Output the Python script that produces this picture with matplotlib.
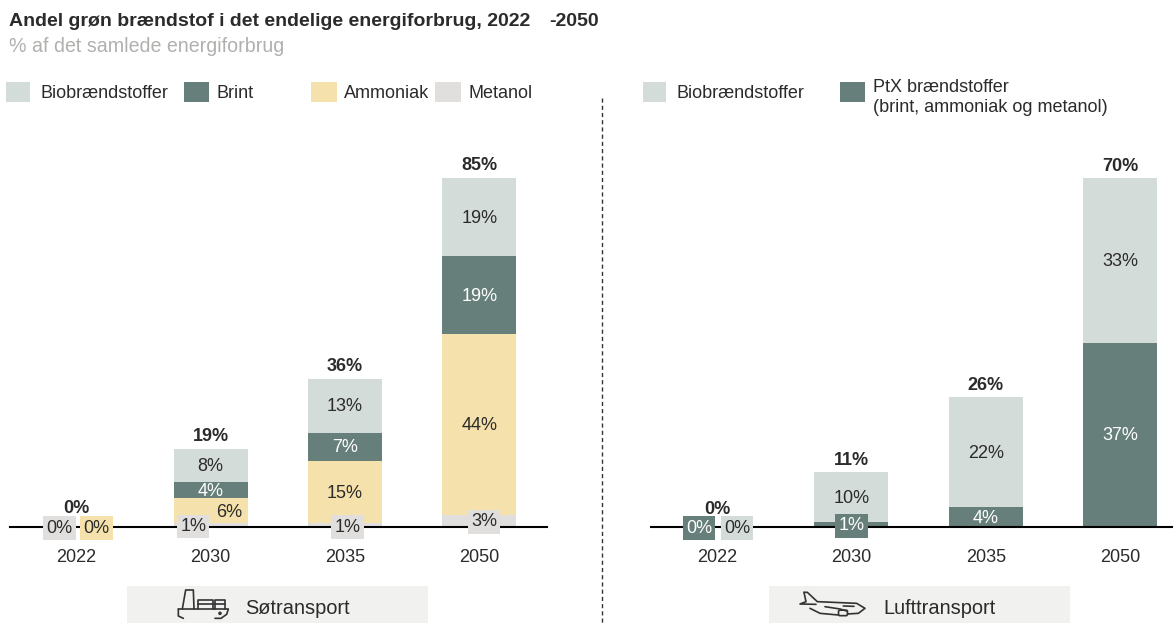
import numpy as np
import matplotlib
matplotlib.use("Agg")
import matplotlib.pyplot as plt
from matplotlib.patches import Rectangle, Circle, FancyBboxPatch

plt.rcParams['font.family'] = ['Liberation Sans', 'DejaVu Sans']

W, H = 1173, 623

years = ['2022', '2030', '2035', '2050']

# soetransport
sea_metanol = [0, 1, 1, 3]
sea_ammoniak = [0, 6, 15, 44]
sea_brint = [0, 4, 7, 19]
sea_bio = [0, 8, 13, 19]
sea_total = [0, 19, 36, 85]

# lufttransport
air_ptx = [0, 1, 4, 37]
air_bio = [0, 10, 22, 33]
air_total = [0, 11, 26, 70]

c_bio = '#d3dcd9'
c_brint = '#667f7a'
c_amm = '#f5e1ab'
c_met = '#e0dfdd'
c_txt = '#2b2b2b'
c_icon = '#333333'
fs = 13


def make_ax(fig, x0, x1, first, step, ymax):
    # base line at pixel y=527, top of axes at pixel y=178
    ax = fig.add_axes([x0 / W, (H - 527) / H, (x1 - x0) / W, 349 / H])
    ax.set_xlim((x0 - first) / step, (x1 - first) / step)
    ax.set_ylim(0, ymax)
    ax.patch.set_alpha(0)
    for s in ['top', 'left', 'right']:
        ax.spines[s].set_visible(False)
    ax.spines['bottom'].set_linewidth(1.5)
    ax.spines['bottom'].set_color('black')
    ax.spines['bottom'].set_zorder(2.5)
    ax.set_yticks([])
    ax.set_xticks(range(4))
    ax.set_xticklabels(years, fontsize=fs, color=c_txt)
    ax.tick_params(axis='x', length=0, pad=15.5)
    return ax


def seg_labels(ax, x, bottoms, vals, color):
    px = ax.get_ylim()[1] / 349
    for i in range(len(x)):
        if vals[i] >= 3:
            ax.text(x[i], bottoms[i] + vals[i] / 2 - px, '%d%%' % vals[i], ha='center', va='center',
                    fontsize=fs, color=color, zorder=5)


def tag(ax, x, y, s, bg, fg):
    ax.text(x, y, s, ha='center', va='center', fontsize=fs, color=fg, zorder=6,
            bbox=dict(facecolor=bg, edgecolor='none', pad=2.4))


def icon_line(ax, pts, ox, oy):
    ax.plot([ox + p[0] / 3 for p in pts], [oy + p[1] / 3 for p in pts], color=c_icon, lw=1.2,
            solid_joinstyle='round', solid_capstyle='round')


fig = plt.figure(figsize=(W / 100, H / 100), dpi=100)

# overlay in pixel coordinates for titles, legends, panels
bg = fig.add_axes([0, 0, 1, 1])
bg.set_xlim(0, W)
bg.set_ylim(H, 0)
bg.axis('off')

bg.text(9, 21, 'Andel grøn brændstof i det endelige energiforbrug, 2022', fontsize=14.03, fontweight='bold',
        color=c_txt, va='center')
bg.text(549, 21, '-2050', fontsize=14.03, fontweight='bold', color=c_txt, va='center')
bg.text(9, 47, '% af det samlede energiforbrug', fontsize=14.1, color='#b0b0ae', va='center')

legend_left = [(6, 24, c_bio, 'Biobrændstoffer', 40), (184, 25, c_brint, 'Brint', 217),
               (311, 26, c_amm, 'Ammoniak', 344), (435, 26, c_met, 'Metanol', 469)]
for x, w, col, lab, tx in legend_left:
    bg.add_patch(Rectangle((x, 82), w, 20, color=col, lw=0))
    bg.text(tx, 93, lab, fontsize=fs, color=c_txt, va='center')

bg.add_patch(Rectangle((643, 82), 23, 20, color=c_bio, lw=0))
bg.text(676, 93, 'Biobrændstoffer', fontsize=fs, color=c_txt, va='center')
bg.add_patch(Rectangle((840, 82), 25, 20, color=c_brint, lw=0))
bg.text(873, 87, 'PtX brændstoffer', fontsize=fs, color=c_txt, va='center')
bg.text(873, 107, '(brint, ammoniak og metanol)', fontsize=fs, color=c_txt, va='center')

bg.plot([601.5, 601.5], [98, 623], color='#333333', lw=1, ls=(0, (3, 2.2)))

bg.add_patch(Rectangle((127, 586), 301, 37, color='#f1f1ef', lw=0))
bg.text(245, 608, 'Søtransport', fontsize=14.4, color=c_txt, va='center')
bg.add_patch(Rectangle((769, 586), 301, 37, color='#f1f1ef', lw=0))
bg.text(883, 608, 'Lufttransport', fontsize=14.4, color=c_txt, va='center')

# ship icon
sx, sy = 165, 585
icon_line(bg, [(52, 72), (62, 15), (85, 15), (87, 72)], sx, sy)
icon_line(bg, [(40, 72), (190, 72), (185, 88), (168, 100), (150, 100)], sx, sy)
icon_line(bg, [(40, 72), (40, 93), (55, 100)], sx, sy)
icon_line(bg, [(100, 72), (100, 45), (145, 45), (145, 72)], sx, sy)
icon_line(bg, [(150, 72), (150, 45), (180, 45), (180, 72)], sx, sy)
icon_line(bg, [(100, 58), (180, 58)], sx, sy)
bg.add_patch(Circle((sx + 165 / 3, sy + 85 / 3), 1.8, color=c_icon, lw=0))

# plane icon
px, py = 790, 585
icon_line(bg, [(42, 22), (52, 22), (82, 50), (200, 55), (225, 70), (205, 85), (172, 87)], px, py)
icon_line(bg, [(42, 22), (48, 50), (30, 57), (78, 58)], px, py)
icon_line(bg, [(60, 70), (90, 85), (145, 90)], px, py)
icon_line(bg, [(105, 65), (150, 72), (170, 78)], px, py)
bg.add_patch(FancyBboxPatch((px + 150 / 3, py + 80 / 3), 6, 2.5, boxstyle='round,pad=1.5', fill=False,
                            ec=c_icon, lw=1.2))
icon_line(bg, [(160, 63), (192, 64)], px, py)

# soetransport
ax1 = make_ax(fig, 10, 547, 76.3, 134.3, 85)
x = np.arange(4)
w = 0.55
b = np.zeros(4)
for vals, col in [(sea_metanol, c_met), (sea_ammoniak, c_amm), (sea_brint, c_brint), (sea_bio, c_bio)]:
    ax1.bar(x, vals, w, bottom=b, color=col, zorder=2)
    b = b + np.array(vals)

seg_labels(ax1, x, np.array(sea_metanol) + sea_ammoniak + np.array(sea_brint), sea_bio, c_txt)
seg_labels(ax1, x, np.array(sea_metanol) + sea_ammoniak, sea_brint, 'white')
seg_labels(ax1, [2, 3], np.array(sea_metanol[2:]), sea_ammoniak[2:], c_txt)
ax1.text(1.135, 3.6, '%d%%' % sea_ammoniak[1], ha='center', va='center', fontsize=fs, color=c_txt, zorder=5)
tag(ax1, 1 - 0.13, 0.15, '%d%%' % sea_metanol[1], c_met, c_txt)
tag(ax1, 2.02, 0.0, '%d%%' % sea_metanol[2], c_met, c_txt)
tag(ax1, 3.035, 1.25, '%d%%' % sea_metanol[3], c_met, c_txt)
tag(ax1, -0.127, -0.3, '%d%%' % sea_metanol[0], c_met, c_txt)
tag(ax1, 0.149, -0.3, '%d%%' % sea_ammoniak[0], c_amm, c_txt)
for i in range(4):
    ax1.text(x[i], sea_total[i] + 0.9 + (1.6 if i == 0 else 0), '%d%%' % sea_total[i], ha='center', va='bottom',
             fontsize=fs, fontweight='bold', color=c_txt, zorder=5)

# lufttransport
ax2 = make_ax(fig, 651, 1173, 717, 134.4, 70)
b = np.zeros(4)
for vals, col in [(air_ptx, c_brint), (air_bio, c_bio)]:
    ax2.bar(x, vals, w, bottom=b, color=col, zorder=2)
    b = b + np.array(vals)
seg_labels(ax2, x, np.array(air_ptx), air_bio, c_txt)
seg_labels(ax2, x, np.zeros(4), air_ptx, 'white')
tag(ax2, 1, 0.25, '%d%%' % air_ptx[1], c_brint, 'white')
tag(ax2, -0.134, -0.25, '%d%%' % air_ptx[0], c_brint, 'white')
tag(ax2, 0.149, -0.25, '%d%%' % air_bio[0], c_bio, c_txt)
for i in range(4):
    ax2.text(x[i], air_total[i] + 0.7 + (1.2 if i == 0 else 0), '%d%%' % air_total[i], ha='center', va='bottom',
             fontsize=fs, fontweight='bold', color=c_txt, zorder=5)

fig.savefig('out.png', dpi=100)
